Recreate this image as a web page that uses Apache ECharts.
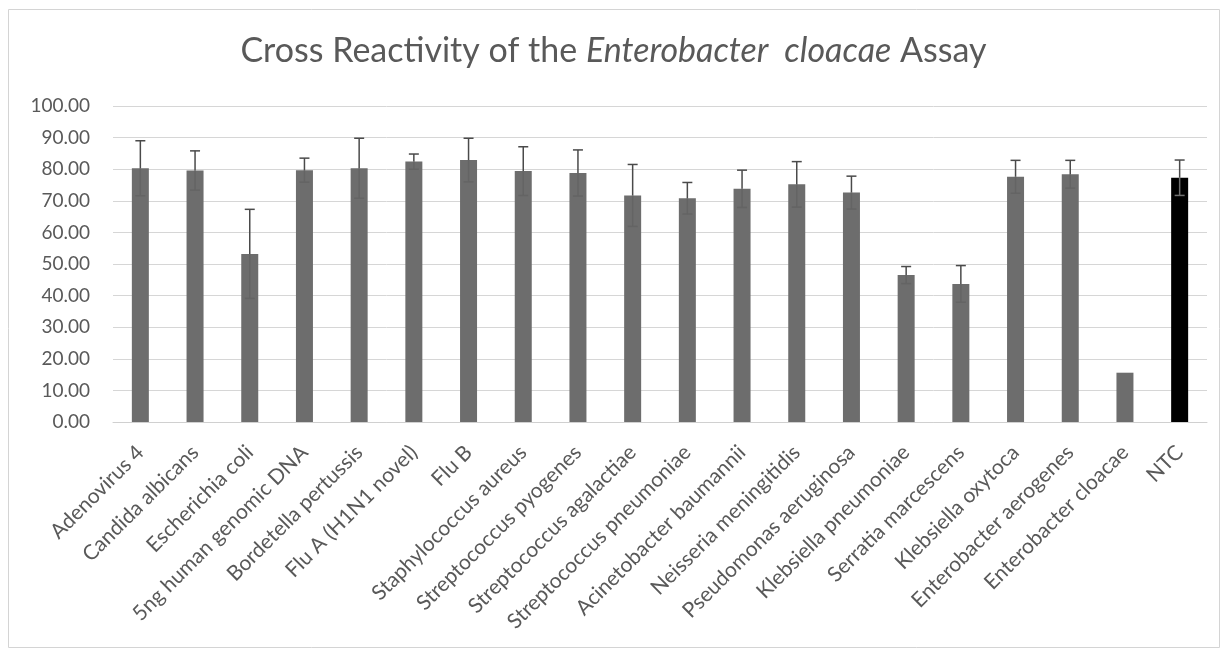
<!DOCTYPE html>
<html>
<head>
<meta charset="utf-8">
<script src="https://cdn.jsdelivr.net/npm/echarts@6/dist/echarts.min.js"></script>
<style>
  html, body { margin: 0; padding: 0; background: #fff; }
  #chart { width: 1227px; height: 655px; }
</style>
</head>
<body>
<div id="chart"></div>
<script>
// Organisms tested against the assay
const categories = [
  'Adenovirus 4', 'Candida albicans', 'Escherichia coli', '5ng human genomic DNA',
  'Bordetella pertussis', 'Flu A (H1N1 novel)', 'Flu B', 'Staphylococcus aureus',
  'Streptococcus pyogenes', 'Streptococcus agalactiae', 'Streptococcus pneumoniae',
  'Acinetobacter baumannii', 'Neisseria meningitidis', 'Pseudomonas aeruginosa',
  'Klebsiella pneumoniae', 'Serratia marcescens', 'Klebsiella oxytoca',
  'Enterobacter aerogenes', 'Enterobacter cloacae', 'NTC'
];
// Mean signal per organism
const means = [
  80.3, 79.6, 53.2, 79.7, 80.3, 82.4, 82.9, 79.4, 78.8, 71.7,
  70.8, 73.8, 75.2, 72.6, 46.5, 43.7, 77.6, 78.4, 15.6, 77.3
];
// Standard deviation per organism
const errors = [
  8.7, 6.2, 14.1, 3.8, 9.5, 2.4, 6.9, 7.7, 7.3, 9.8,
  5.0, 5.9, 7.2, 5.2, 2.7, 5.8, 5.2, 4.4, 0, 5.6
];
const yTicks = [0, 10, 20, 30, 40, 50, 60, 70, 80, 90, 100];

const FONT = 'Lato, "Open Sans", sans-serif';
const TEXT = '#595959';
const BAR = '#6d6d6d';
const CONTROL = '#000000';

const barData = means.map((v, i) => ({
  value: v,
  itemStyle: { color: categories[i] === 'NTC' ? CONTROL : BAR }
}));
const errData = means.map((v, i) => [i, v - errors[i], v + errors[i]]);

const chart = echarts.init(document.getElementById('chart'), null, { renderer: 'canvas' });
chart.setOption({
  animation: false,
  backgroundColor: '#ffffff',
  title: {
    left: 'center',
    top: 29,
    padding: [5, 0, 5, 16],
    text: '{n|Cross Reactivity of the }{i|Enterobacter  cloacae}{n| Assay}',
    textStyle: {
      rich: {
        n: { fontFamily: FONT, fontSize: 34, color: TEXT, fontWeight: 'normal' },
        i: { fontFamily: FONT, fontSize: 34, color: TEXT, fontStyle: 'italic', fontWeight: 'normal' }
      }
    }
  },
  graphic: [{
    type: 'rect',
    shape: { x: 8.5, y: 9.5, width: 1211, height: 638 },
    style: { fill: 'none', stroke: '#d4d4d4', lineWidth: 1 },
    silent: true
  }],
  grid: { left: 113, right: 20, top: 106, bottom: 233, containLabel: false },
  xAxis: {
    type: 'category',
    data: categories,
    axisLine: { show: true, lineStyle: { color: '#d0d0d0' } },
    axisTick: { show: false },
    axisLabel: {
      interval: 0,
      rotate: 45,
      margin: 27,
      fontFamily: FONT,
      fontSize: 21,
      color: TEXT
    }
  },
  yAxis: {
    type: 'value',
    min: yTicks[0],
    max: yTicks[yTicks.length - 1],
    interval: yTicks[1] - yTicks[0],
    axisLine: { show: false },
    axisTick: { show: false },
    splitLine: { lineStyle: { color: '#d6d6d6', width: 1 } },
    axisLabel: {
      margin: 23,
      fontFamily: FONT,
      fontSize: 19,
      color: TEXT,
      formatter: v => v.toFixed(2)
    }
  },
  series: [
    {
      type: 'bar',
      data: barData,
      barWidth: 17,
      z: 2
    },
    {
      type: 'custom',
      z: 3,
      data: errData,
      renderItem: function (params, api) {
        const x = api.value(0);
        const mid = api.coord([x, means[x]]);
        const lo = api.coord([x, api.value(1)]);
        const hi = api.coord([x, api.value(2)]);
        if (Math.abs(hi[1] - lo[1]) < 0.5) return null;
        const half = 5;
        const isControl = categories[x] === 'NTC';
        const upper = { stroke: '#4a4a4a', lineWidth: 1.5 };
        // the lower half sits on top of the bar, so it is drawn in a tone close to the bar fill
        const lower = { stroke: isControl ? '#707070' : '#646464', lineWidth: 1.5 };
        return {
          type: 'group',
          children: [
            { type: 'line', shape: { x1: mid[0], y1: mid[1], x2: hi[0], y2: hi[1] }, style: upper },
            { type: 'line', shape: { x1: hi[0] - half, y1: hi[1], x2: hi[0] + half, y2: hi[1] }, style: upper },
            { type: 'line', shape: { x1: mid[0], y1: mid[1], x2: lo[0], y2: lo[1] }, style: lower },
            { type: 'line', shape: { x1: lo[0] - half, y1: lo[1], x2: lo[0] + half, y2: lo[1] }, style: lower }
          ]
        };
      }
    }
  ]
});
</script>
</body>
</html>
